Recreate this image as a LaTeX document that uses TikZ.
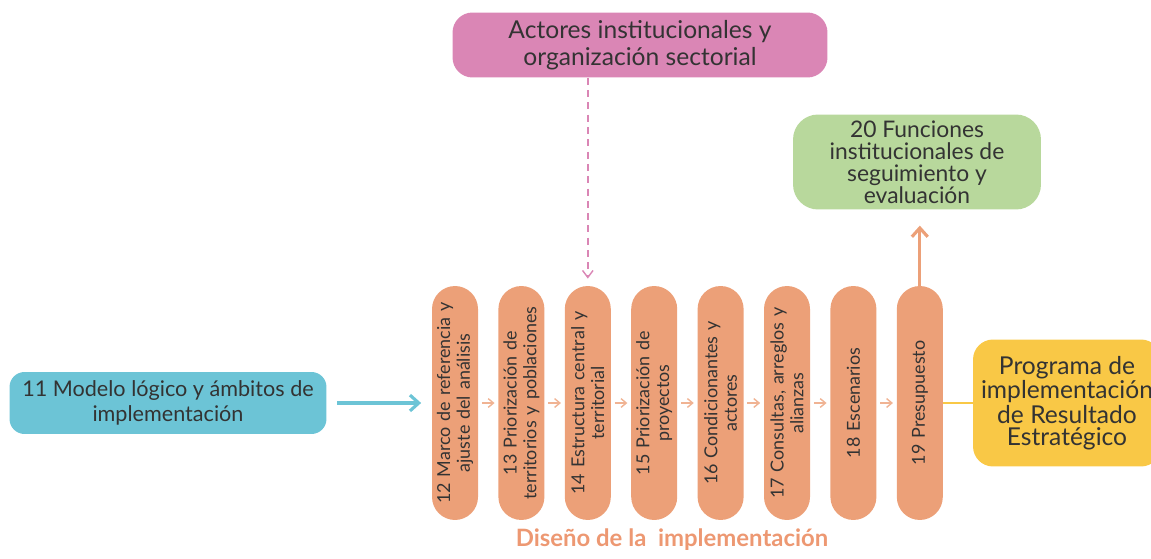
\documentclass[tikz,border=0pt]{standalone}
\usepackage{fontspec}
\setmainfont{Lato}
\usetikzlibrary{arrows.meta}

\definecolor{rosa}{HTML}{DA86B5}
\definecolor{verde}{HTML}{B8D89C}
\definecolor{azul}{HTML}{6CC4D6}
\definecolor{naranja}{HTML}{ECA078}
\definecolor{amarillo}{HTML}{F9C846}
\definecolor{texto}{HTML}{333333}

\tikzset{
  every caja/.style={rounded corners=0.4cm, text=texto, align=center, inner sep=2pt},
  every paso/.style={fill=naranja, rounded corners=0.46cm, rotate=90, text=texto,
    align=center, minimum width=4.68cm, minimum height=0.92cm, text width=4.5cm,
    inner sep=1pt, font=\fontsize{10.2}{11.2}\selectfont},
  flecha paso/.style={-{Straight Barb[length=3pt,width=5pt]}, naranja!80, line width=0.8pt,
    shorten <=2pt, shorten >=2pt}
}

\begin{document}
\begin{tikzpicture}[x=0.02cm, y=0.02cm]

\useasboundingbox (0,0) rectangle (1151,558);
\clip (0,0) rectangle (1151,558);

% Cajas externas

\node [every caja/.try, fill=rosa, minimum width=7.5cm, minimum height=1.3cm,
  font=\fontsize{14}{15.5}\selectfont] (actores) at (640,513)
  {Actores institucionales y\\organización sectorial};

\node [every caja/.try, fill=verde, rounded corners=0.5cm, minimum width=4.96cm, minimum height=1.9cm,
  font=\fontsize{13}{12.6}\selectfont] (funciones) at (917,396)
  {20 Funciones\\institucionales de\\seguimiento y\\evaluación};

\node [every caja/.try, fill=azul, rounded corners=0.3cm, minimum width=6.34cm, minimum height=1.24cm,
  font=\fontsize{12.3}{14}\selectfont] (modelo) at (168,155)
  {11 Modelo lógico y ámbitos de\\implementación};

\node [every caja/.try, fill=amarillo, minimum width=3.76cm, minimum height=2.54cm,
  font=\fontsize{14}{12.5}\selectfont] (programa) at (1067,155)
  {Programa de\\implementación\\de Resultado\\Estratégico};

% Pasos del diseño

\foreach \n/\t [count=\k from 0] in {
    12/{12 Marco de referencia y\\ajuste del análisis},
    13/{13 Priorización de\\territorios y poblaciones},
    14/{14 Estructura central y\\territorial},
    15/{15 Priorización de\\proyectos},
    16/{16 Condicionantes y\\actores},
    17/{17 Consultas, arreglos y\\alianzas},
    18/{18 Escenarios},
    19/{19 Presupuesto}}
  \node [every paso/.try] (paso-\n) at (455+\k*66.4,155) {\t};

% Flechas

\foreach \i in {12,...,18}
{
  \pgfmathtruncatemacro{\j}{\i+1}
  \draw [flecha paso] (paso-\i) -- (paso-\j);
}

\draw [-{Straight Barb[length=5pt,width=9pt]}, azul, line width=1.8pt,
  shorten <=6pt, shorten >=6pt] (modelo) -- (paso-12);

\draw [-{Straight Barb[length=4pt,width=6pt]}, rosa, dash pattern=on 4pt off 3pt, line width=0.8pt,
  shorten >=4pt] (actores.south -| paso-14) -- (paso-14);

\draw [-{Straight Barb[length=5pt,width=9pt]}, naranja, line width=1.8pt,
  shorten >=9pt] (paso-19) -- (paso-19 |- funciones.south);

\draw [amarillo, line width=1.2pt] (paso-19) -- (programa);

% Titulo

\node [text=naranja!95!red, font=\fontsize{13.6}{15}\selectfont\bfseries] (titulo) at (672,18)
  {Diseño de la \ implementación};

\end{tikzpicture}
\end{document}
